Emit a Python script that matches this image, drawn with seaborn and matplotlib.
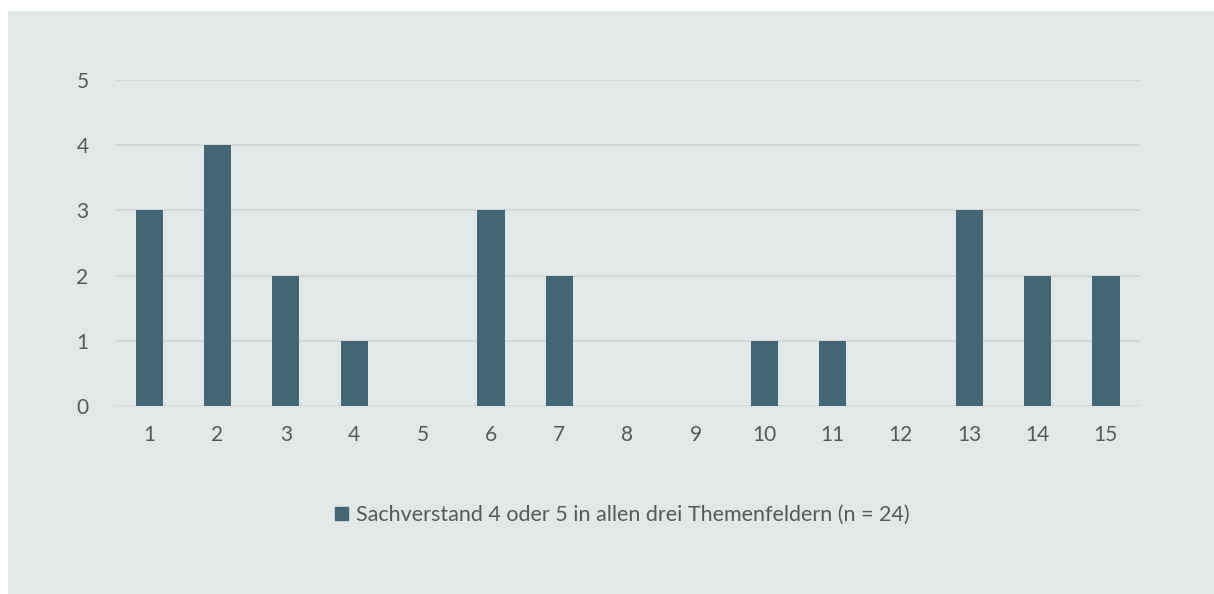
import matplotlib
matplotlib.use("Agg")
import matplotlib.pyplot as plt
import matplotlib.patches as mpatches
import seaborn as sns
import pandas as pd

categories = [str(i) for i in range(1, 16)]
values = [3, 4, 2, 1, 0, 3, 2, 0, 0, 1, 1, 0, 3, 2, 2]
series_label = "Sachverstand 4 oder 5 in allen drei Themenfeldern (n = 24)"
yticks = [0, 1, 2, 3, 4, 5]

sns.set_theme(style="white")
plt.rcParams['font.family'] = ['Lato', 'DejaVu Sans']

bg = "#e2e7e7"
bar_color = "#426674"
text_color = "#595959"
grid_color = "#cfd5d6"

W, H = 1214, 594
fig = plt.figure(figsize=(W / 100, H / 100), dpi=100, facecolor="white")

bgax = fig.add_axes([8 / W, 0, 1 - 8 / W, 1 - 11 / H], zorder=0)
bgax.set_facecolor(bg)
bgax.set_xticks([])
bgax.set_yticks([])
for s in bgax.spines.values():
    s.set_visible(False)

ax = fig.add_axes([115 / W, 1 - 406 / H, (1140 - 115) / W, (406 - 80) / H], zorder=2)
ax.set_facecolor("none")

df = pd.DataFrame({"cat": categories, "val": values})
sns.barplot(data=df, x="cat", y="val", color=bar_color, width=0.4,
            saturation=1, linewidth=0, ax=ax, zorder=3)

ax.set_ylim(0, 5)
ax.set_xlim(-0.5, 14.5)
ax.set_yticks(yticks)
ax.set_yticklabels([str(t) for t in yticks])
for t in yticks:
    ax.axhline(t, color=grid_color, lw=1.2, zorder=1)
for s in ax.spines.values():
    s.set_visible(False)
ax.tick_params(axis="both", length=0, labelsize=15, colors=text_color)
ax.tick_params(axis="y", pad=19)
ax.tick_params(axis="x", pad=14)
ax.set_xlabel("")
ax.set_ylabel("")

handle = mpatches.Patch(color=bar_color, label=series_label)
fig.legend(handles=[handle], loc="center", bbox_to_anchor=(0.5125, 1 - 515 / H),
           frameon=False, fontsize=15.5, labelcolor=text_color,
           handlelength=0.6, handleheight=0.6, handletextpad=0.35)

fig.savefig("out.png", dpi=100, facecolor="white")
